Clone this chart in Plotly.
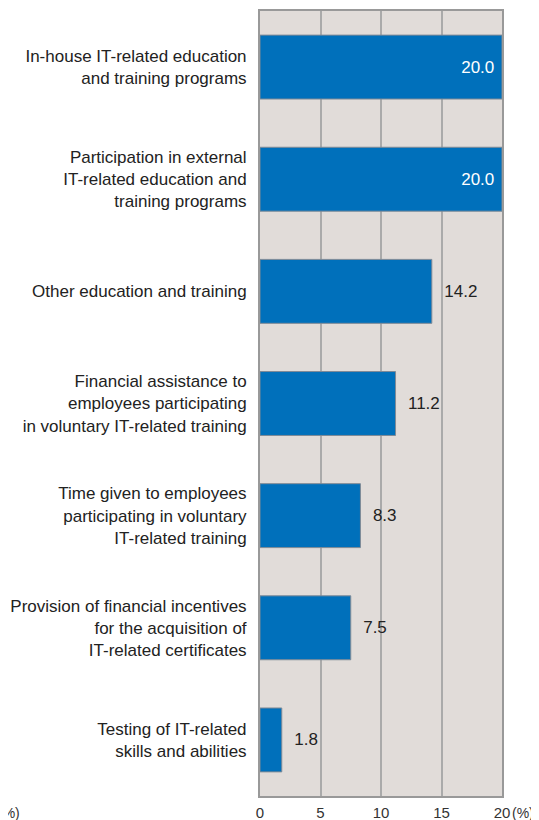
import plotly.graph_objects as go

categories = [
    "In-house IT-related education<br>and training programs",
    "Participation in external<br>IT-related education and<br>training programs",
    "Other education and training",
    "Financial assistance to<br>employees participating<br>in voluntary IT-related training",
    "Time given to employees<br>participating in voluntary<br>IT-related training",
    "Provision of financial incentives<br>for the acquisition of<br>IT-related certificates",
    "Testing of IT-related<br>skills and abilities",
]
values = [20.0, 20.0, 14.2, 11.2, 8.3, 7.5, 1.8]
tick_vals = [0, 5, 10, 15, 20]
tick_text = ["0", "5", "10", "15", "20"]

NB = "\u00a0"
positions = ["inside" if v >= 19.5 else "outside" for v in values]
text_colors = ["white" if p == "inside" else "#222222" for p in positions]
labels = [(f"{v:.1f}{NB}" if p == "inside" else f"{NB}{NB}{v:.1f}")
          for v, p in zip(values, positions)]

FONT = "Liberation Sans, Arial, Helvetica, sans-serif"

fig = go.Figure(go.Bar(
    x=values,
    y=categories,
    orientation="h",
    width=0.57,
    marker=dict(color="#0070bb", line=dict(color="#7f8a96", width=1)),
    text=labels,
    textposition=positions,
    insidetextanchor="end",
    textfont=dict(color=text_colors, size=17, family=FONT),
    cliponaxis=False,
))

fig.update_layout(
    width=531, height=812,
    margin=dict(l=252, r=37, t=3, b=24, autoexpand=False),
    plot_bgcolor="#e1dcd9",
    paper_bgcolor="white",
    font=dict(family=FONT, size=17, color="#222222"),
    showlegend=False,
)
fig.update_xaxes(
    range=[0, 20], tickvals=tick_vals, ticktext=tick_text,
    showgrid=True, gridcolor="#aaaaaa", gridwidth=2,
    showline=True, linecolor="#999999", linewidth=2, mirror=True,
    zeroline=False, ticks="", tickfont=dict(size=15, color="#333333"),
    ticklabelstandoff=2,
)
fig.update_yaxes(
    autorange="reversed",
    showline=True, linecolor="#999999", linewidth=2, mirror=True,
    ticks="", ticklen=0, tickfont=dict(size=17, color="#222222"),
    ticklabelstandoff=8,
    automargin=False,
)
fig.add_annotation(x=20, y=0, xref="x", yref="paper", text="(%)", showarrow=False,
                   xanchor="left", yanchor="top", xshift=8, yshift=-7,
                   font=dict(size=14, color="#333333"))
fig.add_annotation(x=0, y=0, xref="paper", yref="paper", text="(%)", showarrow=False,
                   xanchor="right", yanchor="top", xshift=-238, yshift=-7,
                   font=dict(size=14, color="#333333"))
fig.write_html("out.html")
